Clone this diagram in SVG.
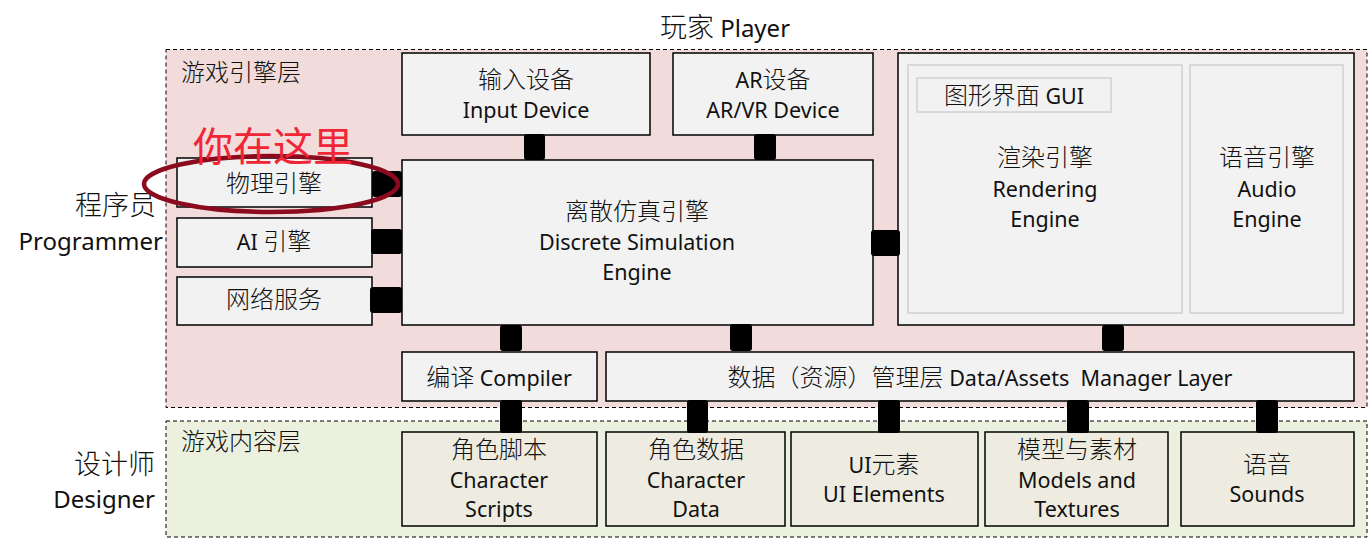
<svg xmlns="http://www.w3.org/2000/svg" width="1369" height="539" viewBox="0 0 1369 539">
<style>
text{font-family:"Noto Sans","Noto Sans CJK SC",sans-serif;fill:#111;}
.t{font-size:21.5px;text-anchor:middle;}
.c{font-size:24px;font-weight:300;}
.box{fill:#F2F2F2;stroke:#000;stroke-width:1.5;}
.inner{fill:#F2F2F2;stroke:#D0D0D0;stroke-width:1.5;}
.bbox{fill:#EEECE1;stroke:#000;stroke-width:1.5;}
.layer{stroke:#000;stroke-width:1;stroke-dasharray:4 3;}
.conn{fill:#000;}
.lbl{font-size:24px;text-anchor:end;}
.lblc{font-size:27px;font-weight:300;}
</style>
<g id="layer-engine">
<rect class="layer" x="166" y="49.5" width="1201" height="358" fill="#F2DCDB"/>
<text x="181" y="81"><tspan class="c">游戏引擎层</tspan></text>
</g>
<g id="layer-content">
<rect class="layer" x="166" y="421" width="1201" height="116" fill="#EBF1DE"/>
<text x="181" y="450"><tspan class="c">游戏内容层</tspan></text>
</g>
<g id="player"><text x="725" y="37" font-size="24" text-anchor="middle"><tspan class="lblc" font-size="26">玩家</tspan> Player</text></g>
<g id="programmer">
<text class="lbl" x="156" y="215"><tspan class="lblc">程序员</tspan></text>
<text class="lbl" x="163" y="250">Programmer</text>
</g>
<g id="designer">
<text class="lbl" x="155" y="474"><tspan class="lblc">设计师</tspan></text>
<text class="lbl" x="155" y="508">Designer</text>
</g>
<g id="input-device">
<rect class="box" x="402" y="53" width="248" height="82"/>
<text class="t" x="526" y="88"><tspan class="c">输入设备</tspan></text>
<text class="t" x="526" y="118">Input Device</text>
</g>
<g id="ar-device">
<rect class="box" x="673" y="53" width="200" height="82"/>
<text class="t" x="773" y="88">AR<tspan class="c">设备</tspan></text>
<text class="t" x="773" y="118">AR/VR Device</text>
</g>
<g id="render-audio">
<rect class="box" x="898" y="53" width="456" height="272"/>
<rect class="inner" x="908" y="65" width="274" height="248"/>
<rect class="inner" x="1190" y="65" width="153" height="248"/>
</g>
<g id="gui">
<rect class="inner" x="917" y="78" width="194" height="34"/>
<text class="t" x="1014" y="104"><tspan class="c">图形界面</tspan> GUI</text>
</g>
<g id="rendering-engine">
<text class="t" x="1045" y="166"><tspan class="c">渲染引擎</tspan></text>
<text class="t" x="1045" y="197">Rendering</text>
<text class="t" x="1045" y="227">Engine</text>
</g>
<g id="audio-engine">
<text class="t" x="1267" y="166"><tspan class="c">语音引擎</tspan></text>
<text class="t" x="1267" y="197">Audio</text>
<text class="t" x="1267" y="227">Engine</text>
</g>
<g id="physics">
<rect class="box" x="177" y="158" width="195" height="49"/>
<text class="t" x="274" y="192"><tspan class="c">物理引擎</tspan></text>
</g>
<g id="ai">
<rect class="box" x="177" y="218" width="195" height="49"/>
<text class="t" x="274" y="250">AI <tspan class="c">引擎</tspan></text>
</g>
<g id="network">
<rect class="box" x="177" y="277" width="195" height="48"/>
<text class="t" x="274" y="308"><tspan class="c">网络服务</tspan></text>
</g>
<g id="simulation">
<rect class="box" x="402" y="160" width="471" height="165"/>
<text class="t" x="637" y="220"><tspan class="c">离散仿真引擎</tspan></text>
<text class="t" x="637" y="250">Discrete Simulation</text>
<text class="t" x="637" y="280">Engine</text>
</g>
<g id="compiler">
<rect class="box" x="402" y="352" width="195" height="49"/>
<text class="t" x="499" y="386"><tspan class="c">编译</tspan> Compiler</text>
</g>
<g id="data-manager">
<rect class="box" x="606" y="352" width="748" height="49"/>
<text class="t" x="980" y="386" style="white-space:pre"><tspan class="c">数据（资源）管理层</tspan> Data/Assets  Manager Layer</text>
</g>
<g id="char-scripts">
<rect class="bbox" x="402" y="432" width="195" height="94"/>
<text class="t" x="499" y="458"><tspan class="c">角色脚本</tspan></text>
<text class="t" x="499" y="488">Character</text>
<text class="t" x="499" y="517">Scripts</text>
</g>
<g id="char-data">
<rect class="bbox" x="606" y="432" width="179" height="94"/>
<text class="t" x="696" y="458"><tspan class="c">角色数据</tspan></text>
<text class="t" x="696" y="488">Character</text>
<text class="t" x="696" y="517">Data</text>
</g>
<g id="ui-elements">
<rect class="bbox" x="791" y="432" width="187" height="94"/>
<text class="t" x="884" y="473">UI<tspan class="c">元素</tspan></text>
<text class="t" x="884" y="502">UI Elements</text>
</g>
<g id="models">
<rect class="bbox" x="985" y="432" width="183" height="94"/>
<text class="t" x="1077" y="458"><tspan class="c">模型与素材</tspan></text>
<text class="t" x="1077" y="488">Models and</text>
<text class="t" x="1077" y="517">Textures</text>
</g>
<g id="sounds">
<rect class="bbox" x="1181" y="432" width="173" height="94"/>
<text class="t" x="1267" y="473"><tspan class="c">语音</tspan></text>
<text class="t" x="1267" y="502">Sounds</text>
</g>
<g id="connectors">
<rect class="conn" x="524" y="134" width="21" height="26" rx="3"/>
<rect class="conn" x="754" y="134" width="22" height="26" rx="3"/>
<rect class="conn" x="372" y="171" width="30" height="26" rx="3"/>
<rect class="conn" x="371" y="229" width="31" height="25" rx="3"/>
<rect class="conn" x="370" y="287" width="32" height="26" rx="3"/>
<rect class="conn" x="871" y="230" width="29" height="26" rx="3"/>
<rect class="conn" x="500" y="325" width="22" height="26" rx="3"/>
<rect class="conn" x="730" y="324" width="22" height="27" rx="3"/>
<rect class="conn" x="1102" y="325" width="22" height="26" rx="3"/>
<rect class="conn" x="500" y="400" width="22" height="33" rx="3"/>
<rect class="conn" x="687" y="400" width="21" height="33" rx="3"/>
<rect class="conn" x="878" y="400" width="22" height="33" rx="3"/>
<rect class="conn" x="1067" y="400" width="22" height="33" rx="3"/>
<rect class="conn" x="1256" y="400" width="22" height="33" rx="3"/>
</g>
<g id="you-are-here">
<ellipse cx="271" cy="184" rx="127" ry="28" fill="none" stroke="#8B0A1E" stroke-width="4.5"/>
<text x="193" y="161" font-size="40" style="fill:#F02535;font-weight:400">你在这里</text>
</g>
</svg>
